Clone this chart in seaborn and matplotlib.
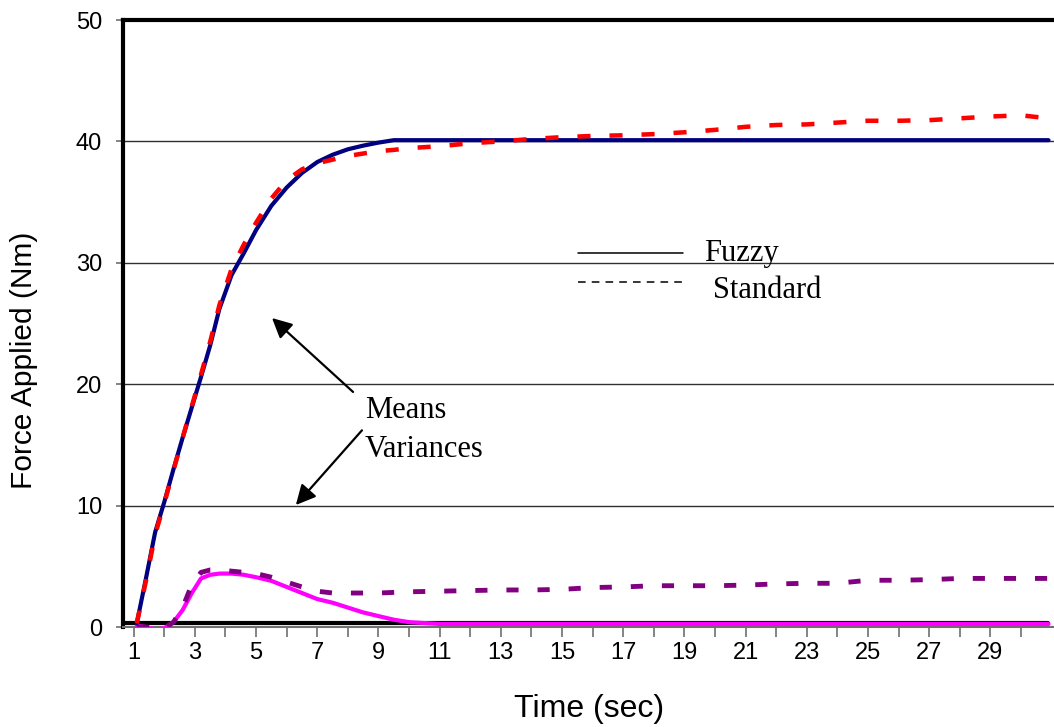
import matplotlib
matplotlib.use("Agg")
import matplotlib.pyplot as plt
import seaborn as sns
import pandas as pd

# ---------------- data ----------------
time_early = [1.1, 1.4, 1.7, 2.0, 2.3, 2.6, 2.9, 3.2, 3.5, 3.8, 4.2, 4.6, 5.0, 5.5,
              6.0, 6.5, 7.0, 7.5, 8.0, 8.5, 9.0, 9.5]
time_late = [10, 11, 12, 13, 14, 15, 16, 17, 18, 19, 20, 21, 22, 23, 24, 25, 26, 27,
             28, 29, 30, 30.9]

fuzzy_mean_early = [0.3, 4.0, 7.8, 10.3, 13.0, 15.6, 18.1, 20.6, 23.2, 26.2, 29.0, 30.8,
                    32.7, 34.7, 36.2, 37.4, 38.3, 38.9, 39.35, 39.65, 39.9, 40.1]
fuzzy_mean_late = [40.1] * 22

std_mean_early = [0.3, 3.8, 7.6, 10.2, 12.9, 15.6, 18.2, 20.8, 23.5, 26.5, 29.5, 31.5,
                  33.3, 35.3, 36.8, 37.7, 38.2, 38.5, 38.8, 39.0, 39.2, 39.3]
std_mean_late = [39.45, 39.6, 39.85, 40.0, 40.2, 40.35, 40.45, 40.5, 40.6, 40.75, 40.95,
                 41.2, 41.35, 41.4, 41.55, 41.7, 41.7, 41.75, 41.9, 42.05, 42.15, 41.9]

fuzzy_var_early = [0.1, 0.0, -0.2, -0.1, 0.4, 1.4, 2.8, 4.0, 4.3, 4.4, 4.4, 4.3, 4.1, 3.8,
                   3.3, 2.8, 2.3, 2.0, 1.6, 1.2, 0.9, 0.6]
fuzzy_var_late = [0.4, 0.25] + [0.25] * 20

std_var_early = [0.0, 0.0, -0.1, -0.1, 0.4, 1.6, 3.5, 4.5, 4.7, 4.7, 4.6, 4.5, 4.4, 4.1,
                 3.7, 3.3, 2.95, 2.8, 2.8, 2.8, 2.8, 2.85]
std_var_late = [2.9, 2.95, 3.0, 3.05, 3.05, 3.1, 3.25, 3.3, 3.4, 3.4, 3.4, 3.45, 3.55, 3.6,
                3.6, 3.85, 3.85, 3.9, 4.0, 4.0, 4.0, 4.0]

baseline_time = [0.65, 30.9]
baseline_value = [0.3, 0.3]

y_ticks = [0, 10, 20, 30, 40, 50]
x_ticks = list(range(1, 31))
x_labels = [str(v) if v % 2 == 1 else "" for v in x_ticks]

time_all = time_early + time_late
df = pd.DataFrame({
    "time": time_all,
    "fuzzy_mean": fuzzy_mean_early + fuzzy_mean_late,
    "std_mean": std_mean_early + std_mean_late,
    "fuzzy_var": fuzzy_var_early + fuzzy_var_late,
    "std_var": std_var_early + std_var_late,
})
df_base = pd.DataFrame({"time": baseline_time, "value": baseline_value})

# ---------------- figure ----------------
sns.set_theme(style="white")
plt.rcParams["font.family"] = ["Liberation Sans", "DejaVu Sans"]
plt.rcParams["text.color"] = "black"
plt.rcParams["axes.labelcolor"] = "black"
plt.rcParams["xtick.color"] = "black"
plt.rcParams["ytick.color"] = "black"

fig = plt.figure(figsize=(10.54, 7.27), dpi=100)
ax = fig.add_axes([123 / 1054, 100 / 727, 931 / 1054, 607 / 727])

for yv in [10, 20, 30, 40]:
    ax.axhline(yv, color="#303030", lw=1.0, zorder=1)

sns.lineplot(data=df_base, x="time", y="value", color="black", lw=3.0, ax=ax,
             sort=False, zorder=2)
sns.lineplot(data=df, x="time", y="fuzzy_var", color="#FF00FF", lw=3.0, ax=ax, zorder=3)
sns.lineplot(data=df, x="time", y="std_var", color="#800080", lw=3.5, ax=ax, zorder=4)
ax.lines[-1].set_dashes([2.5, 3.9])
ax.lines[-1].set_dash_capstyle("butt")
sns.lineplot(data=df, x="time", y="fuzzy_mean", color="#000080", lw=3.0, ax=ax, zorder=5)
sns.lineplot(data=df, x="time", y="std_mean", color="#FF0000", lw=3.25, ax=ax, zorder=6)
ax.lines[-1].set_dashes([2.9, 4.2])
ax.lines[-1].set_dash_capstyle("butt")

ax.set_xlim(0.65, 31.08)
ax.set_ylim(0, 50)
ax.set_yticks(y_ticks)
ax.set_yticklabels([str(v) for v in y_ticks], fontsize=17)
ax.set_xticks(x_ticks)
ax.set_xticklabels(x_labels, fontsize=17)
ax.tick_params(axis="y", left=True, length=5, width=1.2, color="#707070",
               labelcolor="black", pad=10)
ax.tick_params(axis="x", bottom=True, length=7, width=1.2, color="#707070",
               labelcolor="black", pad=4)

for side in ["left", "top"]:
    ax.spines[side].set_color("black")
    ax.spines[side].set_linewidth(3.0)
ax.spines["right"].set_visible(False)
ax.spines["bottom"].set_color("#707070")
ax.spines["bottom"].set_linewidth(1.5)

ax.set_xlabel("Time (sec)", fontsize=23, color="black")
ax.set_ylabel("Force Applied (Nm)", fontsize=21.5, color="black")
ax.xaxis.set_label_coords((589 - 123) / 931, (627 - 694) / 607)
ax.yaxis.set_label_coords((38 - 123) / 931, (627 - 360) / 607)

# legend-like annotation
serif = ["Liberation Serif", "DejaVu Serif"]
ax.plot([15.52, 18.95], [30.8, 30.8], color="black", lw=1.1, zorder=7)
ax.plot([15.52, 18.95], [28.4, 28.4], color="black", lw=1.1, dashes=[5, 4], zorder=7)
ax.text(19.63, 30.15, "Fuzzy", fontsize=22, family=serif, va="baseline", ha="left")
ax.text(19.92, 27.1, "Standard", fontsize=22, family=serif, va="baseline", ha="left")

ax.text(8.56, 17.2, "Means", fontsize=22, family=serif, va="baseline", ha="left")
ax.text(8.56, 14.0, "Variances", fontsize=22, family=serif, va="baseline", ha="left")
arrow = dict(arrowstyle="-|>,head_length=0.6,head_width=0.3", color="black", lw=1.6,
             mutation_scale=20, shrinkA=0, shrinkB=0)
ax.annotate("", xy=(5.52, 25.45), xytext=(8.17, 19.36), arrowprops=arrow)
ax.annotate("", xy=(6.30, 10.05), xytext=(8.46, 16.2), arrowprops=arrow)

fig.savefig("out.png", dpi=100)
